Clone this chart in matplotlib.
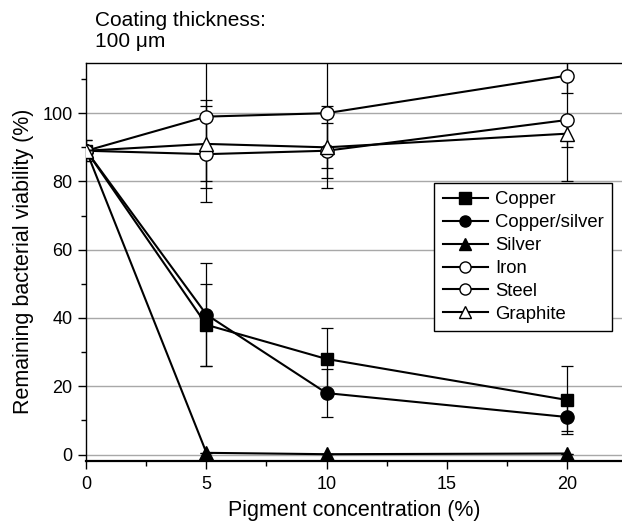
#!/usr/bin/env python3
"""Remaining bacterial viability vs pigment concentration."""

import matplotlib
matplotlib.use("Agg")
import matplotlib.pyplot as plt
from matplotlib.ticker import MultipleLocator

conc = [0, 5, 10, 20]

names = ["Copper", "Copper/silver", "Silver", "Iron", "Steel", "Graphite"]
copper = [89, 38, 28, 16]
copper_silver = [89, 41, 18, 11]
silver = [89, 0.5, 0.1, 0.3]
iron = [89, 99, 100, 111]
steel = [89, 88, 89, 98]
graphite = [89, 91, 90, 94]

copper_err = [3, 12, 9, 10]
copper_silver_err = [0, 15, 7, 4]
silver_err = [0, 0, 0, 0]
iron_err = [3, 19, 16, 5]
steel_err = [0, 14, 8, 18]
graphite_err = [0, 13, 12, 4]

series = [copper, copper_silver, silver, iron, steel, graphite]
errors = [copper_err, copper_silver_err, silver_err, iron_err, steel_err, graphite_err]
markers = ["s", "o", "^", "o", "o", "^"]
faces = ["black", "black", "black", "white", "white", "white"]
sizes = [8.5, 9.5, 9.5, 9.5, 9.5, 10]

plt.rcParams["font.family"] = ["Liberation Sans", "DejaVu Sans"]

fig = plt.figure(figsize=(6.22, 5.28), dpi=100)
ax = fig.add_axes([0.1388, 0.1275, 0.8612, 0.7538])

for vals, err in zip(series, errors):
    ax.errorbar(conc, vals, yerr=err, fmt="none", ecolor="black",
                elinewidth=0.9, capsize=4, capthick=0.9, zorder=2)

for vals, name, mk, fc, ms in zip(series, names, markers, faces, sizes):
    ax.plot(conc, vals, color="black", lw=1.5, marker=mk, markersize=ms,
            markerfacecolor=fc, markeredgecolor="black", markeredgewidth=1.0,
            label=name, zorder=3)

ax.set_xlim(0, 22.3)
ax.set_ylim(-1.8, 114.8)
ax.xaxis.set_major_locator(MultipleLocator(5))
ax.xaxis.set_minor_locator(MultipleLocator(2.5))
ax.yaxis.set_major_locator(MultipleLocator(20))
ax.yaxis.set_minor_locator(MultipleLocator(10))
ax.tick_params(which="major", direction="out", length=6, width=1.0, labelsize=13)
ax.tick_params(axis="x", which="major", pad=5)
ax.tick_params(axis="y", which="major", pad=4)
ax.tick_params(which="minor", direction="out", length=3.5, width=1.0)
ax.yaxis.grid(True, which="major", color="#a8a8a8", lw=1.0, zorder=0)
ax.set_axisbelow(True)
ax.spines["right"].set_visible(False)
for side in ["left", "bottom", "top"]:
    ax.spines[side].set_linewidth(1.0)
ax.spines["bottom"].set_linewidth(1.6)

ax.set_xlabel("Pigment concentration (%)", fontsize=15.5, labelpad=5)
ax.set_ylabel("Remaining bacterial viability (%)", fontsize=15.5, labelpad=6)

fig.text(0.153, 0.98, "Coating thickness:\n100 \u03bcm", fontsize=15,
         ha="left", va="top", linespacing=1.15)

leg = ax.legend(loc="upper right", bbox_to_anchor=(0.9813, 0.6977),
                borderaxespad=0, fontsize=13.3, frameon=True, fancybox=False,
                edgecolor="black", framealpha=1, handlelength=2.45,
                handletextpad=0.38, labelspacing=0.32, borderpad=0.45)
leg.get_frame().set_linewidth(1.0)
for h in leg.legend_handles:
    h.set_markersize(8)

fig.savefig("out.png", dpi=100)
